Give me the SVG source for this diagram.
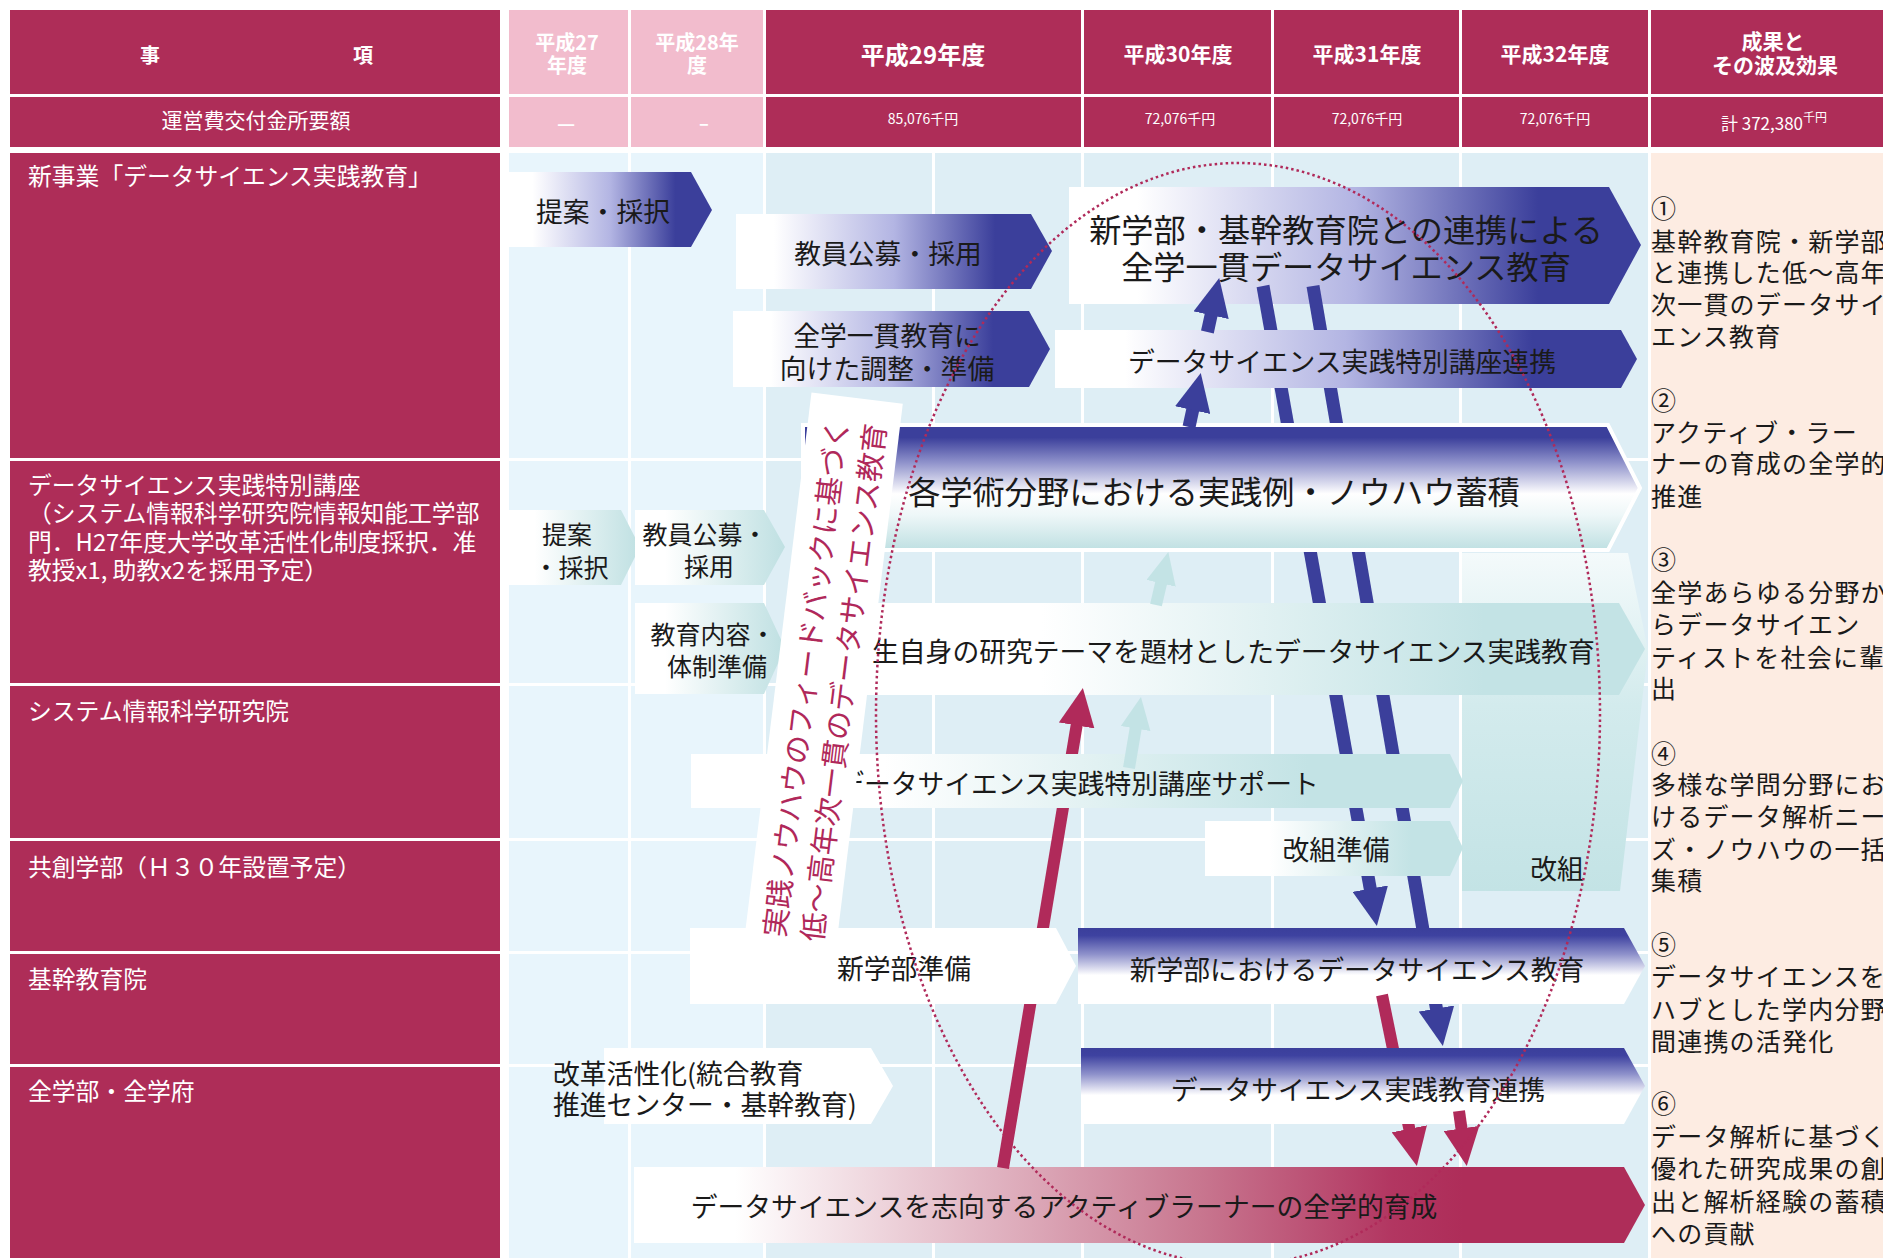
<svg xmlns="http://www.w3.org/2000/svg" width="1883" height="1258" viewBox="0 0 1883 1258">
<style>
text{font-family:"Noto Sans CJK JP","Noto Sans",sans-serif;dominant-baseline:central}
.hd{fill:#fff;font-weight:700;text-anchor:middle}
.hv{fill:#fff;text-anchor:middle}
.lt{fill:#fff;font-size:23.8px}
.bx{fill:#1a1a1a;font-size:26.8px;text-anchor:middle}
.bs{fill:#1a1a1a;font-size:25px;text-anchor:middle}
.big{fill:#1a1a1a;font-size:32.2px;text-anchor:middle}
.rs{fill:#1a1a1a;font-size:25px;letter-spacing:1.2px}
.crim{fill:#ae2d58}
.pink{fill:#f2bccd}
.grid{fill:#fff}
.bl{stroke:#3b3f9b;stroke-width:13;fill:none}
.cr{stroke:#b02a5a;stroke-width:12;fill:none}
.tl{stroke:#c3e3e5;stroke-width:12;fill:none}
.ban{fill:#b0285a;font-size:29px;text-anchor:middle}
</style>
<defs>
<linearGradient id="gBlueH" x1="0" y1="0" x2="1" y2="0">
<stop offset="0" stop-color="#fff"/><stop offset="0.12" stop-color="#fff"/><stop offset="0.5" stop-color="#b3b5e3"/><stop offset="0.82" stop-color="#3b3f9b"/><stop offset="1" stop-color="#3b3f9b"/>
</linearGradient>
<linearGradient id="gBlueV" x1="0" y1="0" x2="0" y2="1">
<stop offset="0" stop-color="#3b3f9b"/><stop offset="0.1" stop-color="#3e42a0"/><stop offset="0.35" stop-color="#9093cc"/><stop offset="0.62" stop-color="#fff"/><stop offset="1" stop-color="#fff"/>
</linearGradient>
<linearGradient id="gBlueTeal" x1="0" y1="0" x2="0" y2="1">
<stop offset="0" stop-color="#3b3f9b"/><stop offset="0.1" stop-color="#3b3f9b"/><stop offset="0.3" stop-color="#8f92cb"/><stop offset="0.55" stop-color="#fff"/><stop offset="0.72" stop-color="#eef7f8"/><stop offset="1" stop-color="#bfe0e2"/>
</linearGradient>
<linearGradient id="gTealH" x1="0" y1="0" x2="1" y2="0">
<stop offset="0" stop-color="#fff"/><stop offset="0.2" stop-color="#fff"/><stop offset="1" stop-color="#bfe0e2"/>
</linearGradient>
<linearGradient id="gTealH2" x1="0" y1="0" x2="1" y2="0">
<stop offset="0" stop-color="#fff"/><stop offset="0.25" stop-color="#fff"/><stop offset="0.8" stop-color="#c3e3e5"/><stop offset="1" stop-color="#c3e3e5"/>
</linearGradient>
<linearGradient id="gTealV" x1="0" y1="0" x2="0" y2="1">
<stop offset="0" stop-color="#f4fafb"/><stop offset="0.45" stop-color="#d3ebed"/><stop offset="1" stop-color="#c3e3e5"/>
</linearGradient>
<linearGradient id="gCrimH" x1="0" y1="0" x2="1" y2="0">
<stop offset="0" stop-color="#fff"/><stop offset="0.1" stop-color="#fff"/><stop offset="0.56" stop-color="#c8768f"/><stop offset="0.75" stop-color="#b23661"/><stop offset="0.82" stop-color="#ae2d59"/><stop offset="1" stop-color="#ae2d59"/>
</linearGradient>
<marker id="hb" markerUnits="userSpaceOnUse" viewBox="0 0 38 36" markerWidth="38" markerHeight="36" refX="1" refY="18" orient="auto"><path d="M0,0 L38,18 L0,36 z" fill="#3b3f9b"/></marker>
<marker id="hr" markerUnits="userSpaceOnUse" viewBox="0 0 38 36" markerWidth="38" markerHeight="36" refX="1" refY="18" orient="auto"><path d="M0,0 L38,18 L0,36 z" fill="#b02a5a"/></marker>
<marker id="ht" markerUnits="userSpaceOnUse" viewBox="0 0 32 30" markerWidth="32" markerHeight="30" refX="1" refY="15" orient="auto"><path d="M0,0 L32,15 L0,30 z" fill="#c3e3e5"/></marker>
<mask id="mBlue" maskUnits="userSpaceOnUse" x="0" y="0" width="1883" height="1258">
<rect x="0" y="0" width="1883" height="1258" fill="#fff"/>
<rect x="1055" y="330" width="590" height="58" fill="#000"/>
<rect x="800" y="423" width="850" height="129" fill="#000"/>
<rect x="840" y="603" width="810" height="92" fill="#000"/>
<rect x="691" y="754" width="774" height="54" fill="#000"/>
<rect x="1205" y="821" width="260" height="55" fill="#000"/>
<rect x="1078" y="928" width="572" height="76" fill="#000"/>
</mask>
<mask id="mCrim" maskUnits="userSpaceOnUse" x="0" y="0" width="1883" height="1258">
<rect x="0" y="0" width="1883" height="1258" fill="#fff"/>
<rect x="690" y="928" width="390" height="76" fill="#000"/>
<rect x="691" y="754" width="774" height="54" fill="#000"/>
</mask>
<mask id="mC1" maskUnits="userSpaceOnUse" x="0" y="0" width="1883" height="1258">
<rect x="0" y="0" width="1883" height="1258" fill="#fff"/>
<rect x="1081" y="1048" width="570" height="76" fill="#000"/>
</mask>
</defs>

<rect x="0" y="0" width="1883" height="1258" fill="#fff"/>

<g id="table">
<rect class="crim" x="10" y="10" width="490" height="84"/>
<rect class="pink" x="509" y="10" width="119" height="84"/>
<rect class="pink" x="631" y="10" width="132" height="84"/>
<rect class="crim" x="766" y="10" width="315" height="84"/>
<rect class="crim" x="1084" y="10" width="187" height="84"/>
<rect class="crim" x="1274" y="10" width="185" height="84"/>
<rect class="crim" x="1462" y="10" width="186" height="84"/>
<rect class="crim" x="1651" y="10" width="232" height="84"/>
<rect class="crim" x="10" y="97" width="490" height="50"/>
<rect class="pink" x="509" y="97" width="119" height="50"/>
<rect class="pink" x="631" y="97" width="132" height="50"/>
<rect class="crim" x="766" y="97" width="315" height="50"/>
<rect class="crim" x="1084" y="97" width="187" height="50"/>
<rect class="crim" x="1274" y="97" width="185" height="50"/>
<rect class="crim" x="1462" y="97" width="186" height="50"/>
<rect class="crim" x="1651" y="97" width="232" height="50"/>
<text class="hd" x="150" y="54" font-size="20">事</text>
<text class="hd" x="363" y="54" font-size="20">項</text>
<text class="hd" x="567" y="41" font-size="20">平成27</text>
<text class="hd" x="567" y="64" font-size="20">年度</text>
<text class="hd" x="697" y="41" font-size="20">平成28年</text>
<text class="hd" x="697" y="64" font-size="20">度</text>
<text class="hd" x="923" y="53" font-size="24">平成29年度</text>
<text class="hd" x="1178" y="53" font-size="21">平成30年度</text>
<text class="hd" x="1367" y="53" font-size="21">平成31年度</text>
<text class="hd" x="1555" y="53" font-size="21">平成32年度</text>
<text class="hd" x="1773" y="40" font-size="21">成果と</text>
<text class="hd" x="1775" y="64" font-size="21">その波及効果</text>
<text class="hv" x="256" y="119" font-size="21">運営費交付金所要額</text>
<text class="hd" x="566" y="122" font-size="20">—</text>
<text class="hd" x="704" y="122" font-size="18">–</text>
<text class="hv" x="923" y="118" font-size="14">85,076千円</text>
<text class="hv" x="1180" y="118" font-size="14">72,076千円</text>
<text class="hv" x="1367" y="118" font-size="14">72,076千円</text>
<text class="hv" x="1555" y="118" font-size="14">72,076千円</text>
<text class="hv" x="1774" y="122" font-size="17">計 372,380<tspan font-size="12" dy="-6">千円</tspan></text>

<rect x="509" y="153" width="254" height="1105" fill="#e8f5fc"/>
<rect x="766" y="153" width="882" height="1105" fill="#deeef5"/>
<rect class="grid" x="628" y="153" width="3" height="1105"/>
<rect class="grid" x="763" y="153" width="3" height="1105"/>
<rect class="grid" x="932" y="153" width="3" height="1105"/>
<rect class="grid" x="1081" y="153" width="3" height="1105"/>
<rect class="grid" x="1271" y="153" width="3" height="1105"/>
<rect class="grid" x="1459" y="153" width="3" height="1105"/>
<rect class="grid" x="509" y="458" width="1139" height="3"/>
<rect class="grid" x="509" y="683" width="1139" height="3"/>
<rect class="grid" x="509" y="838" width="1139" height="3"/>
<rect class="grid" x="509" y="951" width="1139" height="3"/>
<rect class="grid" x="509" y="1064" width="1139" height="3"/>
<rect x="1651" y="153" width="232" height="1105" fill="#fdece2"/>

<rect class="crim" x="10" y="153" width="490" height="305"/>
<rect class="crim" x="10" y="461" width="490" height="222"/>
<rect class="crim" x="10" y="686" width="490" height="152"/>
<rect class="crim" x="10" y="841" width="490" height="110"/>
<rect class="crim" x="10" y="954" width="490" height="110"/>
<rect class="crim" x="10" y="1067" width="490" height="191"/>
<text class="lt" x="28" y="174">新事業「データサイエンス実践教育」</text>
<text class="lt" x="28" y="483">データサイエンス実践特別講座</text>
<text class="lt" x="28" y="511">（システム情報科学研究院情報知能工学部</text>
<text class="lt" x="28" y="540">門．H27年度大学改革活性化制度採択．准</text>
<text class="lt" x="28" y="568">教授x1, 助教x2を採用予定）</text>
<text class="lt" x="28" y="709">システム情報科学研究院</text>
<text class="lt" x="28" y="865">共創学部（Ｈ３０年設置予定）</text>
<text class="lt" x="28" y="977">基幹教育院</text>
<text class="lt" x="28" y="1089">全学部・全学府</text>

<text class="rs" x="1651" y="207">①</text>
<text class="rs" x="1651" y="240">基幹教育院・新学部</text>
<text class="rs" x="1651" y="271">と連携した低〜高年</text>
<text class="rs" x="1651" y="303">次一貫のデータサイ</text>
<text class="rs" x="1651" y="335">エンス教育</text>
<text class="rs" x="1651" y="399">②</text>
<text class="rs" x="1651" y="431">アクティブ・ラー</text>
<text class="rs" x="1651" y="462">ナーの育成の全学的</text>
<text class="rs" x="1651" y="495">推進</text>
<text class="rs" x="1651" y="558">③</text>
<text class="rs" x="1651" y="591">全学あらゆる分野か</text>
<text class="rs" x="1651" y="623">らデータサイエン</text>
<text class="rs" x="1651" y="656">ティストを社会に輩</text>
<text class="rs" x="1651" y="687">出</text>
<text class="rs" x="1651" y="752">④</text>
<text class="rs" x="1651" y="783">多様な学問分野にお</text>
<text class="rs" x="1651" y="815">けるデータ解析ニー</text>
<text class="rs" x="1651" y="848">ズ・ノウハウの一括</text>
<text class="rs" x="1651" y="879">集積</text>
<text class="rs" x="1651" y="943">⑤</text>
<text class="rs" x="1651" y="975">データサイエンスを</text>
<text class="rs" x="1651" y="1008">ハブとした学内分野</text>
<text class="rs" x="1651" y="1040">間連携の活発化</text>
<text class="rs" x="1651" y="1102">⑥</text>
<text class="rs" x="1651" y="1135">データ解析に基づく</text>
<text class="rs" x="1651" y="1167">優れた研究成果の創</text>
<text class="rs" x="1651" y="1200">出と解析経験の蓄積</text>
<text class="rs" x="1651" y="1232">への貢献</text>
</g>

<g id="n-shingakubu-renkei">
<polygon points="1069,187 1609,187 1641,245 1609,304 1069,304" fill="url(#gBlueH)"/>
<text class="big" x="1346" y="228">新学部・基幹教育院との連携による</text>
<text class="big" x="1346" y="265">全学一貫データサイエンス教育</text>
</g>
<g id="n-teian1">
<polygon points="508,172 691,172 712,210 691,247 508,247" fill="url(#gBlueH)"/>
<text class="bx" x="603" y="210">提案・採択</text>
</g>
<g id="n-kyoin1">
<polygon points="736,214 1031,214 1052,251 1031,289 736,289" fill="url(#gBlueH)"/>
<text class="bx" x="888" y="252">教員公募・採用</text>
</g>
<g id="n-chosei">
<polygon points="733,311 1029,311 1050,349 1029,387 733,387" fill="url(#gBlueH)"/>
<text class="bx" x="887" y="334">全学一貫教育に</text>
<text class="bx" x="887" y="367">向けた調整・準備</text>
</g>
<g id="n-tokubetsu-renkei">
<polygon points="1055,330 1621,330 1637,359 1621,388 1055,388" fill="url(#gBlueH)"/>
<text class="bx" x="1342" y="360">データサイエンス実践特別講座連携</text>
</g>
<g id="n-kaiso">
<polygon points="1462,553 1628,553 1648,650 1620,891 1462,891" fill="url(#gTealV)"/>
<text class="bx" x="1557" y="867">改組</text>
</g>
<g id="n-gakujutsu">
<polygon points="803,425 1608,425 1640,488 1608,550 803,550" fill="url(#gBlueTeal)" stroke="#fff" stroke-width="4"/>
<text class="big" x="1214" y="490">各学術分野における実践例・ノウハウ蓄積</text>
</g>
<g id="n-teian2">
<polygon points="508,510 621,510 640,547 621,585 508,585" fill="url(#gTealH)"/>
<text class="bs" x="567" y="533">提案</text>
<text class="bs" x="571" y="566">・採択</text>
</g>
<g id="n-kyoin2">
<polygon points="635,510 764,510 785,547 764,585 635,585" fill="url(#gTealH)"/>
<text class="bs" x="705" y="533">教員公募・</text>
<text class="bs" x="709" y="565">採用</text>
</g>
<g id="n-naiyo">
<polygon points="635,603 764,603 785,648 764,694 635,694" fill="url(#gTealH)"/>
<text class="bs" x="713" y="633">教育内容・</text>
<text class="bs" x="717" y="665">体制準備</text>
</g>
<g id="n-kenkyu">
<polygon points="840,603 1619,603 1645,649 1619,695 840,695" fill="url(#gTealH2)"/>
<text class="bx" x="872" y="650" font-size="26" style="text-anchor:start">生自身の研究テーマを題材としたデータサイエンス実践教育</text>
</g>
<g id="n-support">
<polygon points="691,754 1450,754 1463,781 1450,808 691,808" fill="url(#gTealH2)"/>
<text class="bx" x="1078" y="782">データサイエンス実践特別講座サポート</text>
</g>
<g id="n-kaiso-junbi">
<polygon points="1205,821 1450,821 1463,848 1450,876 1205,876" fill="url(#gTealH2)"/>
<text class="bx" x="1336" y="848">改組準備</text>
</g>
<g id="n-shingakubu-junbi">
<polygon points="690,928 1056,928 1076,966 1056,1004 690,1004" fill="#fff"/>
<text class="bx" x="904" y="967">新学部準備</text>
</g>
<g id="n-shingakubu-ds">
<polygon points="1078,928 1624,928 1645,966 1624,1004 1078,1004" fill="url(#gBlueV)"/>
<text class="bx" x="1357" y="968">新学部におけるデータサイエンス教育</text>
</g>
<g id="n-kaikaku">
<polygon points="604,1048 871,1048 893,1086 871,1124 604,1124" fill="#fff"/>
<text class="bx" x="553" y="1072" style="text-anchor:start">改革活性化(統合教育</text>
<text class="bx" x="553" y="1103" style="text-anchor:start">推進センター・基幹教育)</text>
</g>
<g id="n-jissen-renkei">
<polygon points="1081,1048 1624,1048 1645,1086 1624,1124 1081,1124" fill="url(#gBlueV)"/>
<text class="bx" x="1358" y="1088">データサイエンス実践教育連携</text>
</g>
<g id="n-active">
<polygon points="634,1167 1624,1167 1645,1205 1624,1243 634,1243" fill="url(#gCrimH)"/>
<text class="bx" x="1064" y="1205" font-size="27.1">データサイエンスを志向するアクティブラーナーの全学的育成</text>
</g>

<g id="connectors">
<line class="bl" x1="1263" y1="286" x2="1370.4" y2="889.6" marker-end="url(#hb)" mask="url(#mBlue)"/>
<line class="bl" x1="1313" y1="286" x2="1436.6" y2="1009.5" marker-end="url(#hb)" mask="url(#mBlue)"/>
<line class="bl" x1="1207.4" y1="332" x2="1211.3" y2="314.2" marker-end="url(#hb)"/>
<line class="bl" x1="1189" y1="427" x2="1192.9" y2="409.1" marker-end="url(#hb)"/>
<line class="tl" x1="1156" y1="605" x2="1161.3" y2="582.3" marker-end="url(#ht)"/>
<line class="tl" x1="1129" y1="768" x2="1135.8" y2="727.6" marker-end="url(#ht)"/>
<line class="cr" x1="1003" y1="1168" x2="1076.8" y2="724.5" marker-end="url(#hr)" mask="url(#mCrim)"/>
<line class="cr" x1="1382" y1="995" x2="1409.5" y2="1129.8" marker-end="url(#hr)" mask="url(#mC1)"/>
<line class="cr" x1="1459" y1="1111" x2="1461.6" y2="1129.4" marker-end="url(#hr)"/>
</g>

<g id="n-banner" transform="translate(824,668) rotate(7)">
<rect x="-46" y="-272" width="92" height="548" fill="#fff"/>
<g transform="rotate(-90)">
<text class="ban" x="-12" y="-19">実践ノウハウのフィードバックに基づく</text>
<text class="ban" x="-12" y="19">低〜高年次一貫のデータサイエンス教育</text>
</g>
</g>

<g id="ellipse">
<ellipse cx="1238" cy="714" rx="362" ry="551" fill="none" stroke="#b02a5a" stroke-width="2.5" stroke-dasharray="2.5 3"/>
</g>
</svg>
